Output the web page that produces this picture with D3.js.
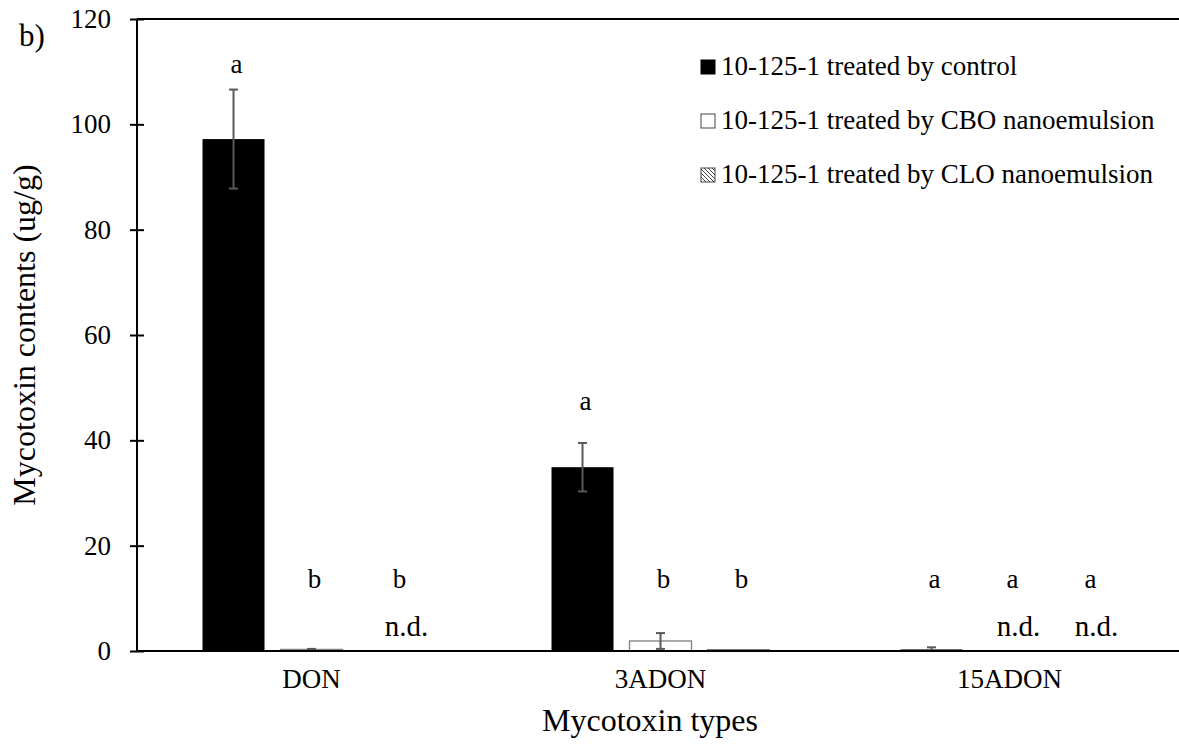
<!DOCTYPE html>
<html><head><meta charset="utf-8">
<script src="https://cdn.jsdelivr.net/npm/d3@7"></script>
<style>body{margin:0;background:#fff}svg{display:block}</style>
</head><body><svg id="c" width="1179" height="754"></svg>
<script>
const categories = ["DON", "3ADON", "15ADON"];
const seriesNames = ["10-125-1 treated by control", "10-125-1 treated by CBO nanoemulsion", "10-125-1 treated by CLO nanoemulsion"];
const controlValues = [97.2, 34.9, 0.3];
const controlErrors = [9.4, 4.6, 0.4];
const cboValues = [0.3, 1.9, 0];
const cboErrors = [0.1, 1.5, 0];
const cloValues = [0, 0.2, 0];
const cloErrors = [0, 0, 0];
const letters = [["a","b","b"],["a","b","b"],["a","a","a"]];
const letterValues = [[109.8, 12, 12],[45.8, 12, 12],[12, 12, 12]];
const notDetected = [[false,false,true],[false,false,false],[false,true,true]];
const yTicks = [0, 20, 40, 60, 80, 100, 120];

const FF = "Liberation Serif";
const svg = d3.select("#c");
const L = 137, R = 1179, T = 19, B = 651;
const y = d3.scaleLinear().domain([0, 120]).range([B, T]);
const x0 = d3.scaleBand().domain(categories).range([L, 1184]);
const x1 = d3.scaleBand().domain([0,1,2]).range([0, x0.bandwidth()]).paddingInner(0.205).paddingOuter(0.84);

const defs = svg.append("defs");
const pat = defs.append("pattern").attr("id","hatch").attr("patternUnits","userSpaceOnUse").attr("width",4).attr("height",4);
pat.append("rect").attr("width",4).attr("height",4).attr("fill","#fff");
pat.append("path").attr("d","M-1,-1 L5,5 M-1,3 L1,5 M3,-1 L5,1").attr("stroke","#444").attr("stroke-width",1);

const vals = [controlValues, cboValues, cloValues];
const errs = [controlErrors, cboErrors, cloErrors];
const fills = ["#000", "#fff", "url(#hatch)"];
const strokes = ["none", "#7f7f7f", "#444"];

const rows = [];
categories.forEach((c, ci) => vals.forEach((v, si) => rows.push({c, ci, si, v: v[ci], e: errs[si][ci]})));

svg.append("g").selectAll("rect").data(rows.filter(d => d.v > 0)).join("rect")
  .attr("x", d => x0(d.c) + x1(d.si))
  .attr("width", x1.bandwidth())
  .attr("y", d => y(d.v))
  .attr("height", d => B - y(d.v))
  .attr("fill", d => fills[d.si])
  .attr("stroke", d => strokes[d.si])
  .attr("stroke-width", 1.3);

const eg = svg.append("g").attr("stroke", "#595959").attr("stroke-width", 2).attr("fill","none");
rows.filter(d => d.e > 0).forEach(d => {
  const cx = x0(d.c) + x1(d.si) + x1.bandwidth()/2;
  const y1 = y(d.v + d.e), y2 = y(Math.max(0, d.v - d.e));
  eg.append("line").attr("x1", cx).attr("x2", cx).attr("y1", y1).attr("y2", y2);
  eg.append("line").attr("x1", cx-4.5).attr("x2", cx+4.5).attr("y1", y1).attr("y2", y1);
  eg.append("line").attr("x1", cx-4.5).attr("x2", cx+4.5).attr("y1", y2).attr("y2", y2);
});

svg.append("line").attr("x1", L).attr("x2", R).attr("y1", B).attr("y2", B).attr("stroke","#000").attr("stroke-width",2);
svg.append("line").attr("x1", L).attr("x2", R).attr("y1", y(120)).attr("y2", y(120)).attr("stroke","#000").attr("stroke-width",2);
const ya = svg.append("g").attr("transform", `translate(${L},0)`)
  .call(d3.axisLeft(y).tickValues(yTicks).tickSize(7).tickPadding(19).tickFormat(d3.format("d")));
ya.attr("font-family", FF);
ya.select(".domain").attr("stroke","#000").attr("stroke-width",2).attr("d", `M0,${T}V${B}`);
ya.selectAll(".tick line").attr("stroke","#000").attr("stroke-width",2).attr("x1", 7).attr("x2", -7);
ya.selectAll(".tick text").attr("font-size", 27).attr("fill","#000");

const xa = svg.append("g").attr("transform", `translate(0,${B})`)
  .call(d3.axisBottom(x0).tickSize(0).tickPadding(18));
xa.attr("font-family", FF);
xa.select(".domain").remove();
xa.selectAll(".tick text").attr("font-size", 27).attr("fill","#000");

const lg = svg.append("g").attr("font-size", 27).attr("text-anchor","middle").attr("font-family", FF);
categories.forEach((c, ci) => [0,1,2].forEach(si => {
  const cx = x0(c) + x1(si) + x1.bandwidth()/2;
  const dx = (ci === 0 && si === 2) ? 10 : 3;
  lg.append("text").attr("x", cx + dx).attr("y", y(letterValues[ci][si])).text(letters[ci][si]);
  if (notDetected[ci][si]) {
    lg.append("text").attr("x", cx + (ci === 0 ? 17 : 9)).attr("y", 636).attr("font-size", 29).text("n.d.");
  }
}));

const leg = svg.append("g").attr("font-family", FF);
seriesNames.forEach((n, i) => {
  const gy = 67 + i * 54;
  leg.append("rect").attr("x", 701).attr("y", gy - 7).attr("width", 14).attr("height", 14)
    .attr("fill", fills[i]).attr("stroke", i === 0 ? "#000" : "#444").attr("stroke-width", 1);
  leg.append("text").attr("x", 721).attr("y", gy + 8).attr("font-size", 27).text(n);
});

svg.append("text").attr("transform", `translate(35,${(T+B)/2}) rotate(-90)`).attr("text-anchor","middle")
  .attr("font-family", FF).attr("font-size", 32).text("Mycotoxin contents (ug/g)");
svg.append("text").attr("x", 650).attr("y", 731).attr("text-anchor","middle").attr("font-family", FF).attr("font-size", 32).text("Mycotoxin types");
svg.append("text").attr("x", 19).attr("y", 46).attr("font-family", FF).attr("font-size", 31).text("b)");
</script></body></html>
